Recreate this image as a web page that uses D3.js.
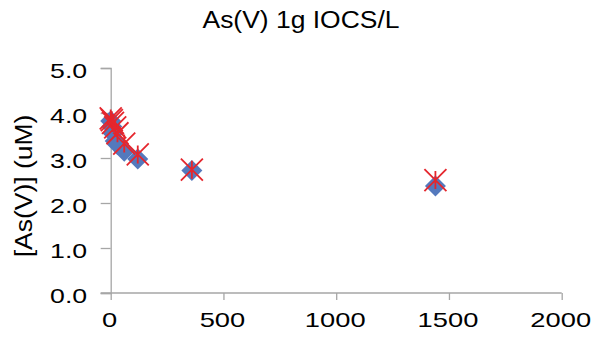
<!DOCTYPE html>
<html>
<head>
<meta charset="utf-8">
<script src="https://cdn.jsdelivr.net/npm/d3@7"></script>
<style>
  body { margin: 0; background: #fff; }
  text { font-family: "Liberation Sans", Arial, sans-serif; fill: #000; }
</style>
</head>
<body>
<svg width="602" height="342"></svg>
<script>
const times = [0, 5, 10, 20, 30, 60, 120, 360, 1440];
const asBlue = [3.82, 3.7, 3.55, 3.38, 3.3, 3.15, 2.98, 2.72, 2.38];
const asRed = [3.88, 3.84, 3.78, 3.68, 3.55, 3.32, 3.08, 2.74, 2.51];
const xTicks = [0, 500, 1000, 1500, 2000];
const yTicks = [0, 1, 2, 3, 4, 5];

const svg = d3.select("svg");
const axisColor = "#a6a6a6";

const x = d3.scaleLinear().domain([0, 2000]).range([110.7, 561.7]);
const y = d3.scaleLinear().domain([0, 5]).range([293, 68]);

// excel text comes out wider than the font, stretch it a bit
function stretch(sel, factor) {
    sel.each(function () {
        const w = this.getComputedTextLength();
        d3.select(this).attr("textLength", w * factor).attr("lengthAdjust", "spacingAndGlyphs");
    });
}

// title
svg.append("text")
    .attr("x", 301).attr("y", 28)
    .attr("text-anchor", "middle")
    .style("font-size", "23px")
    .text("As(V) 1g IOCS/L")
    .call(stretch, 1.15);

// axes
const xAxis = svg.append("g")
    .attr("transform", `translate(0,${y(0)})`)
    .call(d3.axisBottom(x).tickValues(xTicks).tickSize(7).tickFormat(d3.format("d")));
const yAxis = svg.append("g")
    .attr("transform", `translate(${x(0)},0)`)
    .call(d3.axisLeft(y).tickValues(yTicks).tickSize(10).tickFormat(d3.format(".1f")));

[xAxis, yAxis].forEach(g => {
    g.select(".domain").attr("stroke", axisColor).attr("stroke-width", 1.3);
    g.selectAll(".tick line").attr("stroke", axisColor).attr("stroke-width", 1.3);
    g.selectAll(".tick text").style("font-size", "21px").attr("fill", "#000");
});
// the x axis line starts at the y tick
xAxis.select(".domain").attr("d", `M${x(0) - 10},0H${x(2000)}`);
xAxis.selectAll(".tick text").attr("y", 34.3).attr("dy", 0).attr("x", -1.5).call(stretch, 1.3);
yAxis.selectAll(".tick text").attr("x", -23.5).attr("y", 9.5).attr("dy", 0).call(stretch, 1.27);

svg.append("text")
    .attr("transform", `translate(32,186) rotate(-90)`)
    .attr("text-anchor", "middle")
    .style("font-size", "23px")
    .text("[As(V)] (uM)")
    .call(stretch, 1.15);

const blue = times.map((t, i) => ({ t, v: asBlue[i] }));
const red = times.map((t, i) => ({ t, v: asRed[i] }));

// blue diamonds
svg.append("g").selectAll("path")
    .data(blue)
    .enter().append("path")
    .attr("transform", d => `translate(${x(d.t)},${y(d.v)})`)
    .attr("d", "M0,-10.5L10.5,0L0,10.5L-10.5,0Z")
    .attr("fill", "#5479bd");

// red star markers
svg.append("g").selectAll("path")
    .data(red)
    .enter().append("path")
    .attr("transform", d => `translate(${x(d.t)},${y(d.v)})`)
    .attr("d", "M-11,-11L11,11M-11,11L11,-11M0,-9V9")
    .attr("stroke", "#e5262d")
    .attr("stroke-width", 1.8)
    .attr("fill", "none");
</script>
</body>
</html>
